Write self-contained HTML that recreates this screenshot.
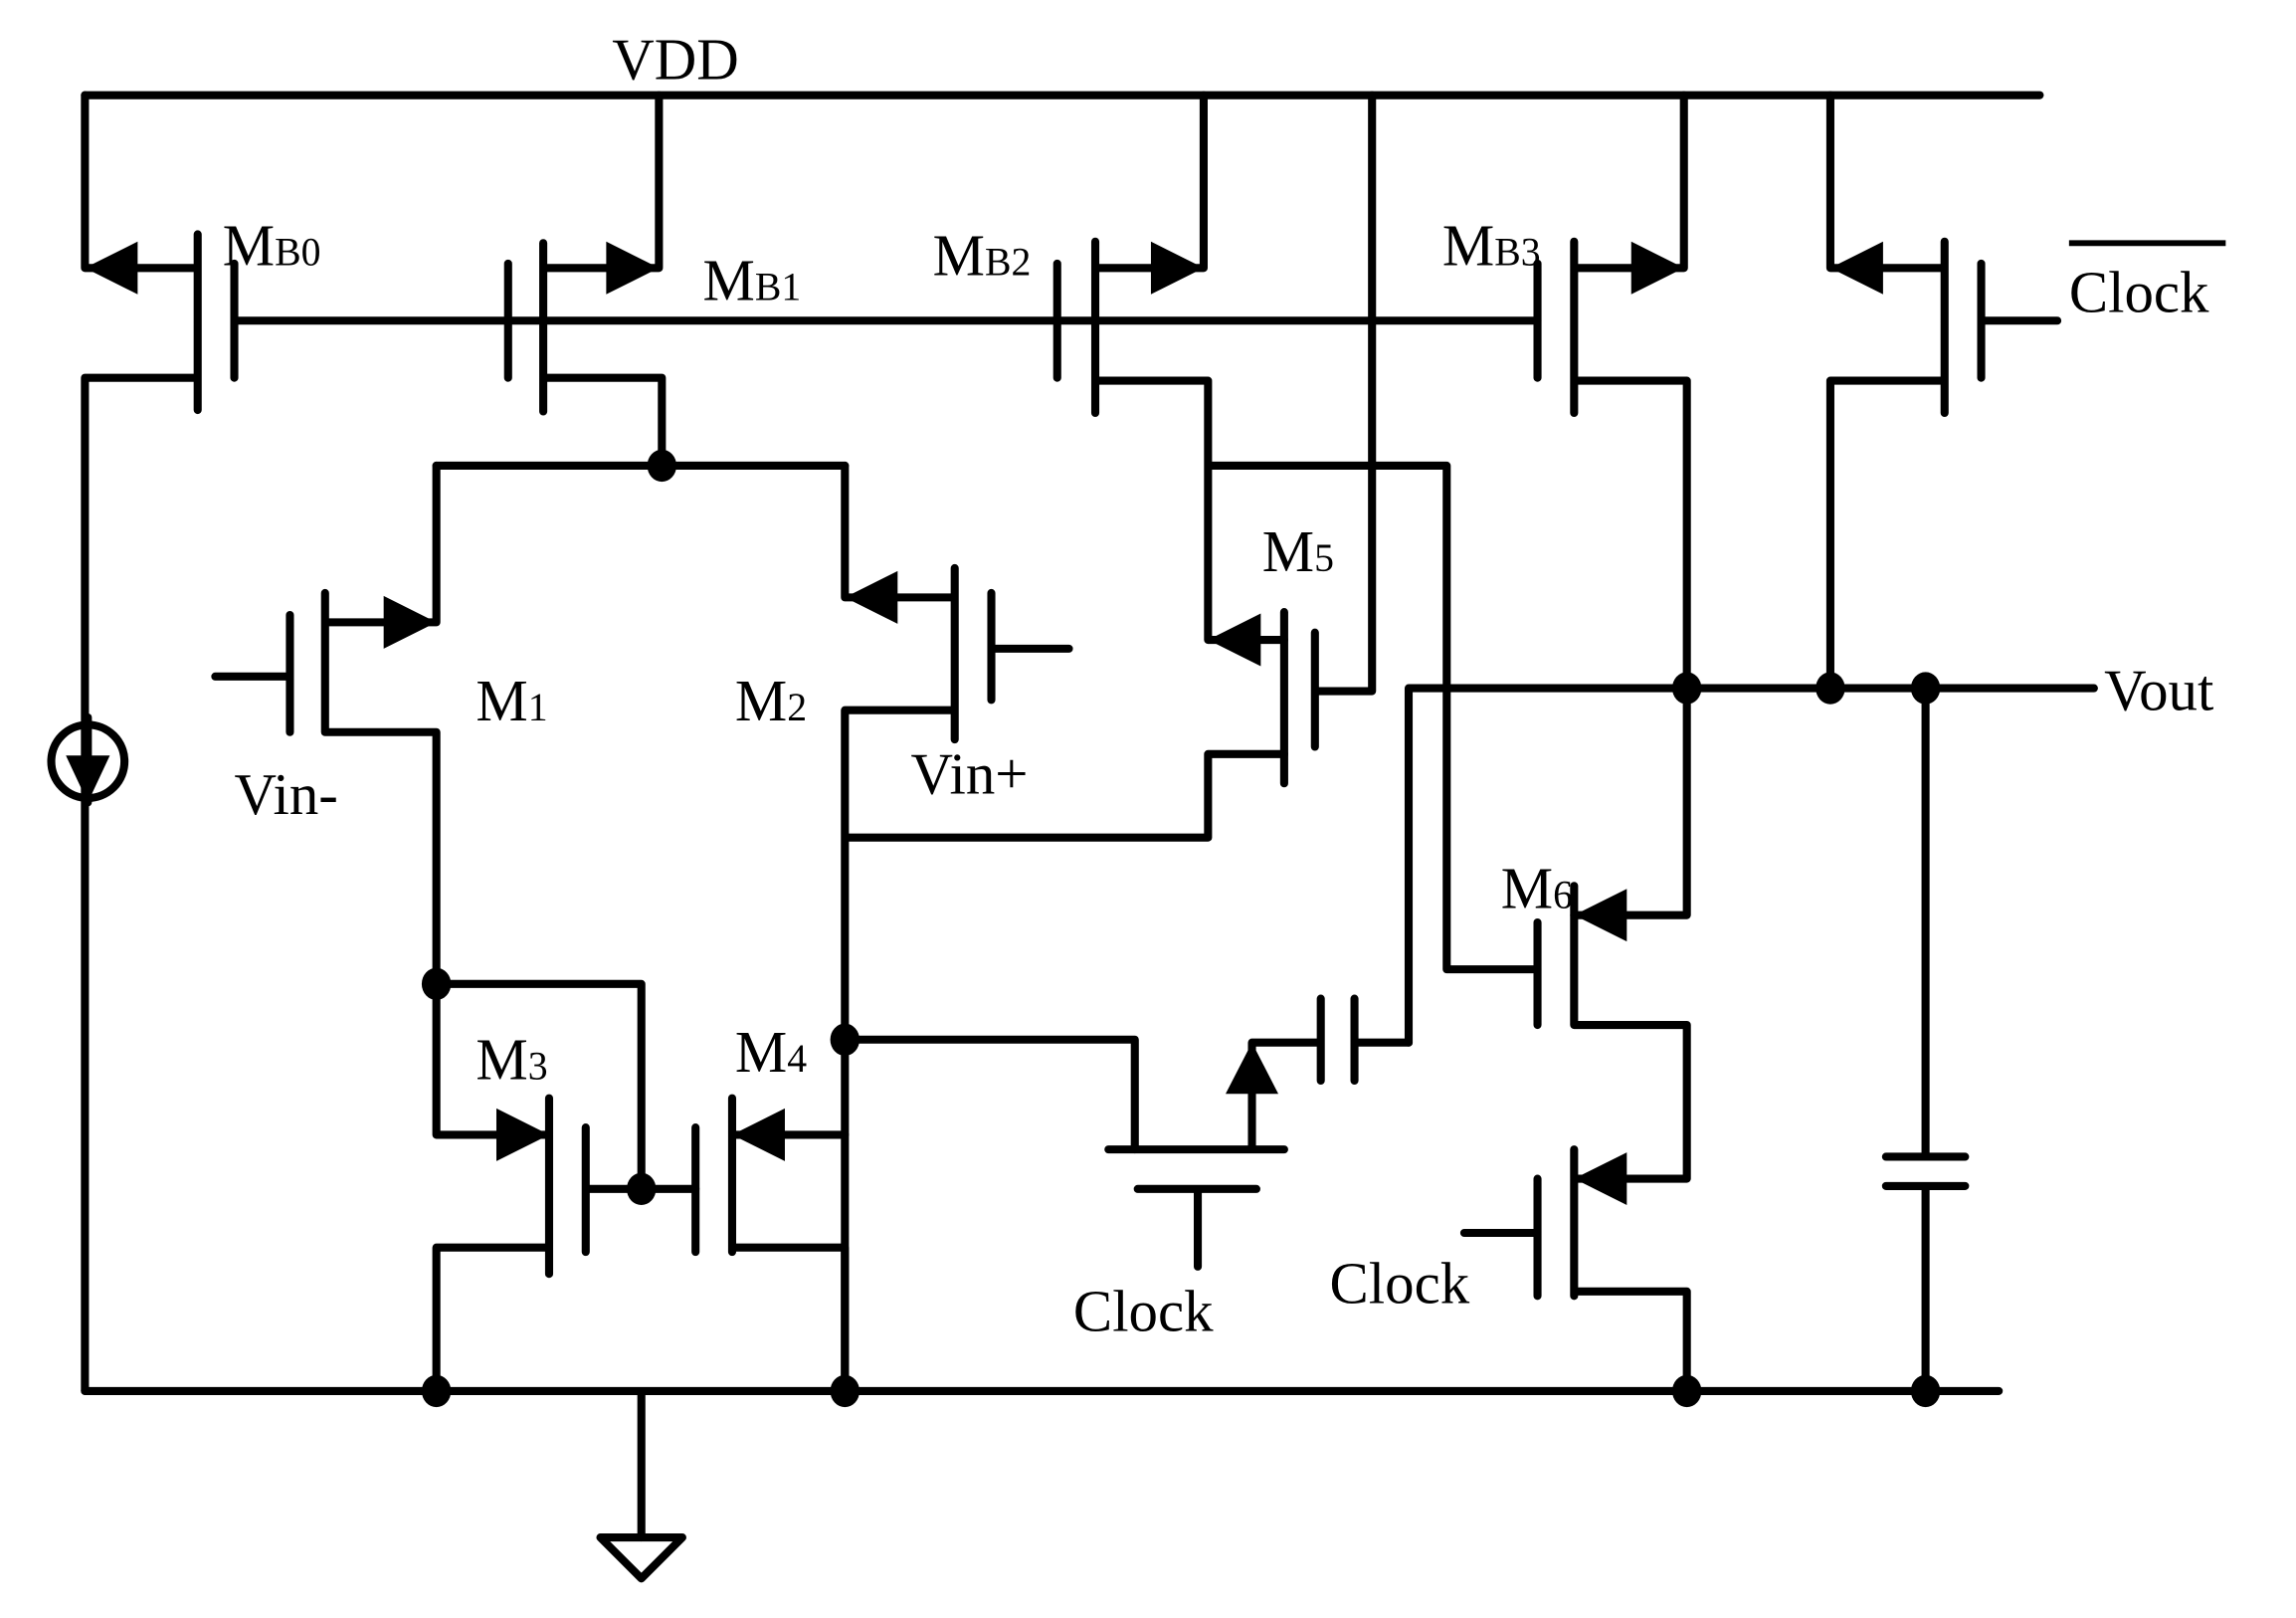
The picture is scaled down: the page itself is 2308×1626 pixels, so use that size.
<!DOCTYPE html>
<html><head><style>html,body{margin:0;padding:0;background:#fff}svg{display:block}</style></head><body>
<svg width="2308" height="1626" viewBox="0 0 1568 1105" preserveAspectRatio="none" xmlns="http://www.w3.org/2000/svg">
<g stroke="#000" stroke-width="5.5" fill="none" stroke-linecap="round" stroke-linejoin="round">
<path d="M58 65H1393"/>
<path d="M58 65V183H135M135 160V280M160 180V258M135 258H58V950M160 219H1050"/>
<path d="M347 180V258M371 166V281M371 183H450V65M371 258H452V318"/>
<path d="M298 318H577"/>
<path d="M298 318V425H222M222 405V500M198 420V500M147 462H198M222 500H298V775H375M375 750V870M400 770V855M400 812H475M375 852H298V950M298 672H438V812"/>
<path d="M475 770V855M500 750V855M500 775H577M500 852H577V950"/>
<path d="M577 318V408H652M652 388V505M677 405V478M677 443H730M652 485H577V950M577 572H825V515H877M577 710H775V785"/>
<path d="M722 180V258M748 165V282M748 183H822V65M748 260H825V437H877M825 318H988V662H1050"/>
<path d="M877 418V535M898 432V510M898 472H937V65"/>
<path d="M1050 180V258M1075 165V282M1075 183H1150V65M1075 260H1152V625H1075"/>
<path d="M1250 65V183H1328M1328 165V282M1353 180V258M1353 219H1405M1328 260H1250V470"/>
<path d="M962 712V470H1430"/>
<path d="M962 712H925M925 682V738M902 682V738M902 712H855V785M757 785H877M777 812H858M818 812V865"/>
<path d="M1075 605V700M1050 630V700M1075 700H1152V805H1075M1075 785V885M1050 805V885M1000 842H1050M1075 882H1152V950"/>
<path d="M1315 470V790M1288 790H1342M1288 810H1342M1315 810V950"/>
<path d="M58 950H1365M438 950V1050"/>
<path d="M410 1050H466L438 1078Z"/>
<circle cx="60" cy="520" r="25"/>
<path d="M60 490V548"/>
</g>
<g fill="#000">
<polygon points="58,183 94,165 94,201"/>
<polygon points="450,183 414,165 414,201"/>
<polygon points="298,425 262,407 262,443"/>
<polygon points="375,775 339,757 339,793"/>
<polygon points="500,775 536,757 536,793"/>
<polygon points="577,408 613,390 613,426"/>
<polygon points="822,183 786,165 786,201"/>
<polygon points="825,437 861,419 861,455"/>
<polygon points="1150,183 1114,165 1114,201"/>
<polygon points="1250,183 1286,165 1286,201"/>
<polygon points="1075,625 1111,607 1111,643"/>
<polygon points="1075,805 1111,787 1111,823"/>
<polygon points="855,712 837,747 873,747"/>
<polygon points="60,548 45,516 75,516"/>
<ellipse cx="452" cy="318" rx="10" ry="11"/>
<ellipse cx="298" cy="672" rx="10" ry="11"/>
<ellipse cx="438" cy="812" rx="10" ry="11"/>
<ellipse cx="577" cy="710" rx="10" ry="11"/>
<ellipse cx="1152" cy="470" rx="10" ry="11"/>
<ellipse cx="1250" cy="470" rx="10" ry="11"/>
<ellipse cx="1315" cy="470" rx="10" ry="11"/>
<ellipse cx="298" cy="950" rx="10" ry="11"/>
<ellipse cx="577" cy="950" rx="10" ry="11"/>
<ellipse cx="1152" cy="950" rx="10" ry="11"/>
<ellipse cx="1315" cy="950" rx="10" ry="11"/>
</g>
<g font-family="Liberation Serif, serif" font-size="40" fill="#000">
<text x="418" y="54">VDD</text>
<text x="152" y="181">M<tspan font-size="27">B0</tspan></text>
<text x="480" y="205">M<tspan font-size="27">B1</tspan></text>
<text x="637" y="188">M<tspan font-size="27">B2</tspan></text>
<text x="985" y="181">M<tspan font-size="27">B3</tspan></text>
<text x="1413" y="213">Clock</text>
<path d="M1413 166H1520" stroke="#000" stroke-width="4"/>
<text x="325" y="492">M<tspan font-size="27">1</tspan></text>
<text x="502" y="492">M<tspan font-size="27">2</tspan></text>
<text x="862" y="390">M<tspan font-size="27">5</tspan></text>
<text x="1025" y="620">M<tspan font-size="27">6</tspan></text>
<text x="325" y="737">M<tspan font-size="27">3</tspan></text>
<text x="502" y="732">M<tspan font-size="27">4</tspan></text>
<text x="160" y="556">Vin-</text>
<text x="622" y="542">Vin+</text>
<text x="1437" y="485">Vout</text>
<text x="733" y="909">Clock</text>
<text x="908" y="890">Clock</text>
</g>
</svg>
</body></html>
